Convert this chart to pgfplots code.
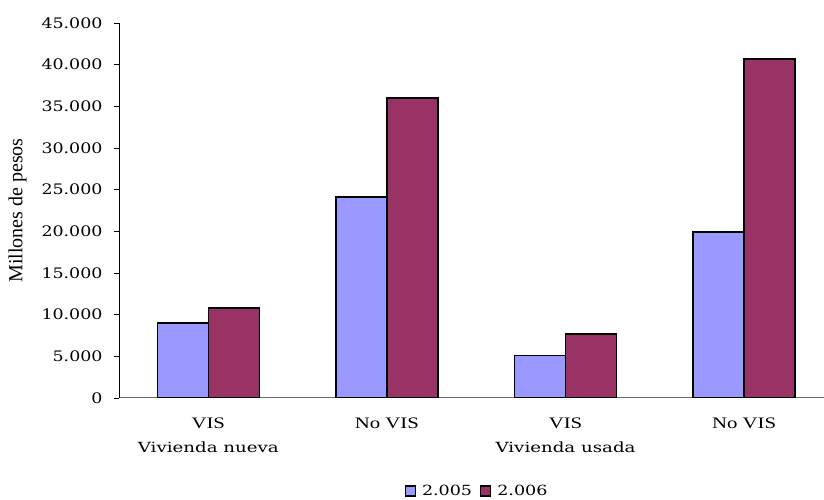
\documentclass[border=0pt]{standalone}
\usepackage{graphicx}
\usepackage{fontspec}
\setmainfont{DejaVu Serif}
\newfontfamily\tnr{Liberation Serif}
\usepackage{pgfplots}
\pgfplotsset{compat=1.18}
\definecolor{bblue}{HTML}{9999FF}
\definecolor{bmaroon}{HTML}{993366}
\newcommand\sx[1]{\scalebox{1.3}[1]{#1}}
\newcommand\sy[1]{\scalebox{1.2}[1]{#1}}
\newcommand\vis[1]{{\fontsize{16}{24}\selectfont\sx{\tnr #1}}}
\begin{document}
\begin{tikzpicture}[x=1pt,y=1pt]
\path[use as bounding box] (0,0) rectangle (824,500);
\begin{axis}[
  at={(119pt,102pt)}, anchor=south west,
  scale only axis, width=705pt, height=375pt,
  xmin=-0.5, xmax=3.447, ymin=0, ymax=45000,
  axis x line*=bottom, axis y line*=left,
  x axis line style={draw=gray!85!black, line width=1pt},
  y axis line style={draw=black, line width=0.8pt},
  ybar=0pt, bar width=51pt,
  xtick={0,1,2,3},
  xticklabels={{\vis{VIS}\\\sx{Vivienda nueva}},{\vis{No VIS}},{\vis{VIS}\\\sx{Vivienda usada}},{\vis{No VIS}}},
  xticklabel style={align=center, font=\fontsize{14}{24}\selectfont, yshift=-11pt},
  x tick style={draw=none},
  extra x ticks={-0.5,0.5,1.5,2.5},
  extra x tick labels={},
  extra x tick style={tick align=outside, major tick length=6pt, tick style={draw=gray!85!black, line width=1pt}},
  ytick={0,5000,...,45000},
  y tick style={draw=black, line width=0.8pt},
  tick align=outside, major tick length=5pt,
  /pgf/number format/assume math mode=true,
  yticklabel={\sy{\pgfmathprintnumber[fixed,1000 sep={.}]{\tick}}},
  yticklabel style={font=\fontsize{14.5}{16}\selectfont, xshift=-8pt},
  scaled y ticks=false,
  ylabel={\tnr Millones de pesos},
  ylabel style={font=\fontsize{20}{22}\selectfont, at={(axis description cs:-0.126,0.5)}, anchor=south},
  legend style={at={(0.508,-0.248)}, anchor=center, draw=none, legend columns=2,
    font=\fontsize{14}{16}\selectfont,
    /tikz/every odd column/.append style={column sep=4pt},
    /tikz/every even column/.append style={column sep=6pt}},
  legend image code/.code={\draw[#1, line width=1.2pt] (0pt,-5pt) rectangle (10pt,5pt);},
]
\addplot[fill=bblue, draw=black, line width=1.5pt] coordinates {(0,9000) (1,24100) (2,5100) (3,19900)};
\addplot[fill=bmaroon, draw=black, line width=1.5pt] coordinates {(0,10800) (1,36000) (2,7700) (3,40700)};
\addlegendentry{\scalebox{1.25}[1]{2.005}}
\addlegendentry{\scalebox{1.25}[1]{2.006}}
\end{axis}
\end{tikzpicture}
\end{document}
